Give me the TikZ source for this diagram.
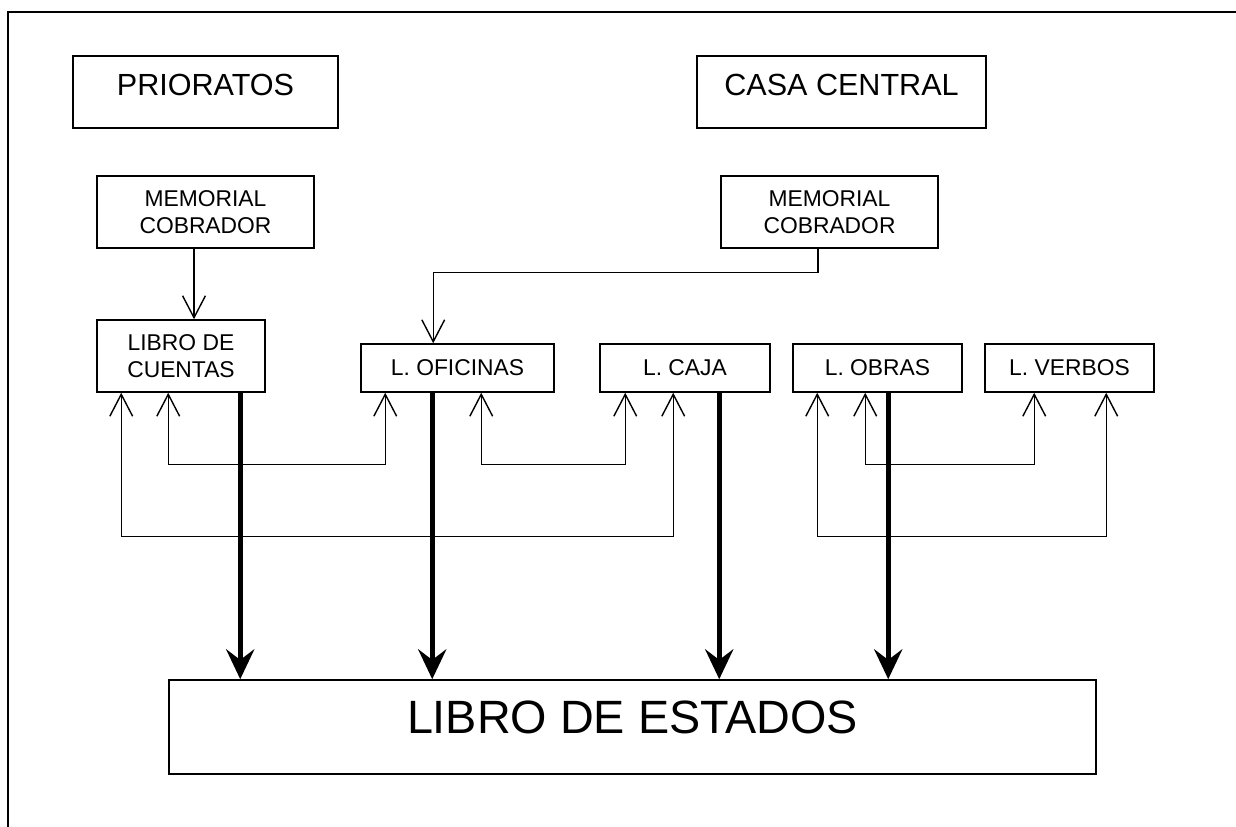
\documentclass[tikz,border=0pt]{standalone}
\usepackage{fontspec}
\setmainfont{Liberation Sans}
\usepackage{tikz}
\usetikzlibrary{arrows.meta,calc}
\tikzset{
  box/.style={draw,line width=.9pt,rectangle,inner sep=0pt,align=center,minimum height=1.44cm,font=\fontsize{13}{15.5}\selectfont},
  topbox/.style={box,font=\fontsize{17.4}{20}\selectfont,text depth=7.9pt},
  libbox/.style={box,minimum height=.96cm},
  thinarr/.style={line width=.7pt,-{Straight Barb[length=12.5pt,width=13pt,line width=.8pt]}},
  duoarr/.style={line width=.7pt,{Straight Barb[length=12.5pt,width=13pt,line width=.8pt]}-{Straight Barb[length=12.5pt,width=13pt,line width=.8pt]}},
  heavyarr/.style={line width=2.8pt,-{Stealth[length=17pt,width=16pt,inset=6pt]}}
}
\begin{document}
\begin{tikzpicture}[x=0.02cm,y=0.02cm]
\useasboundingbox(0,0)rectangle(1236,-827);
\draw[line width=.9pt](8,-850)|-(1260,-12);
\node[topbox,minimum width=5.3cm](prioratos)at(205.5,-92){PRIORATOS};
\node[topbox,minimum width=5.78cm](casa)at(841.5,-92){CASA CENTRAL};
\node[box,minimum width=4.34cm](memL)at(205.5,-212){MEMORIAL\\COBRADOR};
\node[box,minimum width=4.34cm](memR)at(829.5,-212){MEMORIAL\\COBRADOR};
\node[box,minimum width=3.36cm](cuentas)at(181,-356){LIBRO DE\\CUENTAS};
\node[libbox,minimum width=3.86cm](oficinas)at(457.5,-368){L. OFICINAS};
\node[libbox,minimum width=3.4cm](caja)at(685,-368){L. CAJA};
\node[libbox,minimum width=3.38cm](obras)at(877.5,-368){L. OBRAS};
\node[libbox,minimum width=3.38cm](verbos)at(1069.5,-368){L. VERBOS};
\node[box,minimum width=18.54cm,minimum height=1.88cm,font=\fontsize{26.6}{30}\selectfont,text depth=11.3pt](estados)at(632.5,-727){LIBRO DE ESTADOS};
\draw[thinarr]($(memL.south)+(-11.5,0)$)coordinate(m1)--(m1|-cuentas.north);
\draw[thinarr]($(memR.south)+(-11.5,0)$)--++(0,-24)-|($(oficinas.north west)+(73,0)$);
\draw[duoarr]($(cuentas.south west)+(72,0)$)--++(0,-72)-|($(oficinas.south west)+(25,0)$);
\draw[duoarr]($(oficinas.south west)+(121,0)$)--++(0,-72)-|($(caja.south west)+(26,0)$);
\draw[duoarr]($(cuentas.south west)+(25,0)$)--++(0,-144)-|($(caja.south west)+(74,0)$);
\draw[duoarr]($(obras.south west)+(73,0)$)--++(0,-72)-|($(verbos.south west)+(50,0)$);
\draw[duoarr]($(obras.south west)+(25,0)$)--++(0,-144)-|($(verbos.south west)+(122,0)$);
\foreach \src/\dx in {cuentas/144,oficinas/72,caja/120,obras/96}
  \draw[heavyarr]($(\src.south west)+(\dx,0)$)coordinate(t)--(t|-estados.north);
\end{tikzpicture}
\end{document}
